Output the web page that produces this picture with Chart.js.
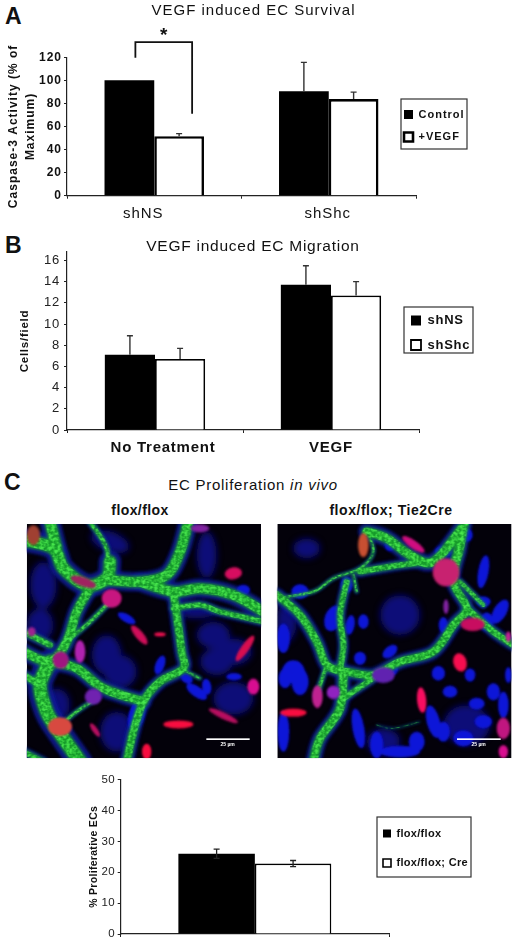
<!DOCTYPE html>
<html><head><meta charset="utf-8"><title>VEGF induced EC survival, migration and proliferation</title>
<script src="https://cdn.jsdelivr.net/npm/chart.js@4"></script>
<style>
html,body{margin:0;padding:0;background:#fff;width:520px;height:947px;overflow:hidden}
canvas.c{position:absolute;left:0}
.t{position:absolute;font-family:"Liberation Sans",Arial,sans-serif;color:#111;white-space:nowrap;transform:translate(-50%,-50%)}
.p{font-weight:bold;font-size:23px;transform:none;line-height:24px}
svg{position:absolute;left:0;top:0}
</style></head><body>
<div class="t p" style="left:5px;top:4px">A</div>
<div class="t p" style="left:5px;top:233px">B</div>
<div class="t p" style="left:4px;top:470px">C</div>
<div class="t" style="left:253px;top:484px;font-size:15px;letter-spacing:.75px">EC Proliferation <i>in vivo</i></div>
<div class="t" style="left:140px;top:510px;font-size:14px;font-weight:bold;letter-spacing:.4px">flox/flox</div>
<div class="t" style="left:391px;top:510px;font-size:14px;font-weight:bold;letter-spacing:.55px">flox/flox; Tie2Cre</div>
<svg id="micro" width="520" height="947" viewBox="0 0 1560 2841"></svg>
<canvas class="c" id="ca" width="520" height="232" style="top:0"></canvas>
<canvas class="c" id="cb" width="520" height="235" style="top:232px"></canvas>
<canvas class="c" id="cc" width="520" height="177" style="top:770px"></canvas>
<script>
// ---- Data ----
const catsA = ['shNS','shShc'];
const controlA = [100,90.5];
const vegfA = [51.5,83.7];
const controlErrA = [0,25];
const vegfErrA = [2.3,6];
const ticksMaxA = 120;

const catsB = ['No Treatment','VEGF'];
const shNSB = [7.1,13.7];
const shShcB = [6.7,12.7];
const shNSErrB = [1.8,1.8];
const shShcErrB = [1.0,1.3];

const catsC = [''];
const floxC = [26];
const creC = [22.8];
const floxErrC = [1.5];
const creErrC = [1.0];

const sigLevels = {top:133, leftEnd:119.5, rightEnd:71};

// ---- Chart helpers ----
const FF = '"Liberation Sans", Arial, sans-serif';
const INK = '#111';

const panelPlugin = {
  id:'panel',
  afterLayout(chart){
    const o = chart.options.plugins.panel, l = chart.legend;
    const w = o.frame[0]+o.frame[2]+10-o.legendX;
    l.left = o.legendX; l.top = o.legendY; l.right = o.legendX+w; l.bottom = o.legendY+o.frame[3]+30;
    l.width = w; l.height = o.frame[3]+30;
    if(chart.titleBlock && o.titleShift){ chart.titleBlock.left += o.titleShift; chart.titleBlock.right += o.titleShift; }
  },
  beforeDraw(chart){
    const o = chart.options.plugins.panel;
    chart.ctx.letterSpacing = o.spacing;
    const items = chart.scales.x.getLabelItems();
    items.forEach((it,i)=>{ if(!it._moved){ it.options.translation[0] += o.labelShift[i]||0; it._moved = true; } });
  },
  afterDraw(chart){
    const o = chart.options.plugins.panel, c = chart.ctx, ys = chart.scales.y;
    c.save();
    // error bars
    o.errors.forEach((errs,d)=>{
      const meta = chart.getDatasetMeta(d), vals = chart.data.datasets[d].data;
      errs.forEach((e,j)=>{
        if(!e) return;
        const x = meta.data[j].x, hi = ys.getPixelForValue(vals[j]+e), lo = ys.getPixelForValue(vals[j]-(o.bothWays?e:0));
        c.strokeStyle = o.errColor; c.lineWidth = o.errWidth;
        c.beginPath(); c.moveTo(x,lo); c.lineTo(x,hi);
        c.moveTo(x-o.cap,hi); c.lineTo(x+o.cap,hi);
        if(o.bothWays){ c.moveTo(x-o.cap,lo); c.lineTo(x+o.cap,lo); }
        c.stroke();
      });
    });
    // legend frame
    c.strokeStyle = '#333'; c.lineWidth = 1.2;
    c.strokeRect(o.frame[0], o.frame[1], o.frame[2], o.frame[3]);
    // significance bracket
    if(o.bracket){
      const m0 = chart.getDatasetMeta(0).data[0], m1 = chart.getDatasetMeta(1).data[0];
      const xl = m0.x+6, xr = m1.x+13;
      c.strokeStyle = '#111'; c.lineWidth = 1.8; c.beginPath();
      c.moveTo(xl,ys.getPixelForValue(sigLevels.leftEnd));
      c.lineTo(xl,ys.getPixelForValue(sigLevels.top));
      c.lineTo(xr,ys.getPixelForValue(sigLevels.top));
      c.lineTo(xr,ys.getPixelForValue(sigLevels.rightEnd));
      c.stroke();
      c.fillStyle = '#111'; c.font = 'bold 19px '+FF; c.textAlign='center'; c.textBaseline='middle';
      c.letterSpacing='0px';
      c.fillText('*',(xl+xr)/2,ys.getPixelForValue(sigLevels.top)-6);
    }
    c.restore();
  }
};

function makeChart(id,cfg){
  const el = document.getElementById(id), H = el.height;
  const a = cfg.area; // left,right,top,bottom within the canvas
  return new Chart(el,{
    type:'bar',
    plugins:[panelPlugin],
    data:{labels:cfg.labels,datasets:cfg.series.map((s,i)=>({
      label:s.name,data:s.data,
      backgroundColor:i? '#fff':'#000',borderColor:'#000',borderWidth:i?cfg.barBorder:0,inflateAmount:0,
      borderSkipped:'bottom',categoryPercentage:.57,barPercentage:1}))},
    options:{
      responsive:false,animation:false,events:[],
      layout:{padding:{left:cfg.padL,right:520-a.right,top:cfg.padT,bottom:0}},
      scales:{
        x:{
          grid:{display:true,offset:true,drawOnChartArea:false,drawTicks:true,tickLength:3,color:'#222',lineWidth:1},
          border:{display:true,color:'#222',width:1.2},
          ticks:{color:INK,padding:cfg.xPad,font:{family:FF,size:cfg.xSize,weight:cfg.xWeight||'normal'},maxRotation:0,autoSkip:false},
          afterFit(s){ s.height = H-a.bottom; }
        },
        y:{
          min:0,max:cfg.max,
          grid:{display:true,drawOnChartArea:false,drawTicks:true,tickLength:3,color:'#222',lineWidth:1},
          border:{display:true,color:'#222',width:1.2},
          ticks:{color:cfg.tickColor||INK,stepSize:cfg.step,includeBounds:false,padding:cfg.yPad,font:{family:FF,size:cfg.ySize,weight:cfg.yWeight||'normal'}},
          title:{display:true,text:cfg.yTitle,color:INK,padding:{top:0,bottom:0},font:{family:FF,size:cfg.titleSize,weight:'bold',lineHeight:cfg.titleLH||1.4}},
          afterFit(s){ s.width = a.left-cfg.padL; }
        }
      },
      plugins:{
        title:cfg.title?{display:true,text:cfg.title,color:INK,padding:cfg.titlePad,font:{family:FF,size:cfg.headSize,weight:'normal'}}:{display:false},
        tooltip:{enabled:false},
        legend:{display:true,position:'chartArea',align:'start',
          labels:{boxWidth:cfg.box,boxHeight:cfg.box,padding:cfg.legPad,color:INK,font:{family:FF,size:cfg.legSize,weight:'bold'}}},
        panel:cfg.panel
      }
    }
  });
}

makeChart('ca',{
  labels:catsA,series:[{name:'Control',data:controlA},{name:'+VEGF',data:vegfA}],
  area:{left:67,right:416,top:56,bottom:195.7},padL:5,padT:0,barBorder:2.6,
  max:ticksMaxA,step:20,xSize:15,ySize:12,yWeight:'bold',xPad:6,yPad:2,
  yTitle:['Caspase-3 Activity (% of','Maximum)'],titleSize:12,
  title:'VEGF induced EC Survival',headSize:15,titlePad:{top:2,bottom:37.2},
  box:9,legPad:11.5,legSize:11,
  panel:{legendX:392.5,legendY:97.5,frame:[401,99,66,50],errors:[controlErrA,vegfErrA],bothWays:false,errColor:'#333',errWidth:1.4,cap:3,labelShift:[-11,-1],spacing:'1px',bracket:true,titleShift:43}
});
makeChart('cb',{
  labels:catsB,series:[{name:'shNS',data:shNSB},{name:'shShc',data:shShcB}],
  area:{left:67,right:419,top:18,bottom:198},padL:17,padT:0,barBorder:1.8,
  max:16.8,step:2,xSize:15,xWeight:'bold',ySize:13,tickColor:'#222',xPad:6,yPad:4,
  yTitle:'Cells/field',titleSize:11.5,
  title:'VEGF induced EC Migration',headSize:15.5,titlePad:{top:5,bottom:-3.6},
  box:10,legPad:11.5,legSize:13,
  panel:{legendX:399.5,legendY:70.5,frame:[404,75,69,46],errors:[shNSErrB,shShcErrB],bothWays:false,errColor:'#333',errWidth:1.4,cap:3,labelShift:[8,0],spacing:'0.75px',bracket:false,titleShift:35}
});
makeChart('cc',{
  labels:catsC,series:[{name:'flox/flox',data:floxC},{name:'flox/flox; Cre',data:creC}],
  area:{left:120.7,right:389,top:9,bottom:164},padL:87,padT:9,barBorder:1.6,
  max:50,step:10,xSize:11,ySize:11.5,tickColor:'#222',xPad:2,yPad:2.7,
  yTitle:'% Proliferative ECs',titleSize:10.5,
  box:8,legPad:18.5,legSize:11,
  panel:{legendX:364.5,legendY:39.5,frame:[377,47,94,60],errors:[floxErrC,creErrC],bothWays:true,errColor:'#222',errWidth:1.3,cap:3,labelShift:[0],spacing:'0.3px',bracket:false}
});

// ---- Micrograph panels (illustrative, not chart data) ----
const imgs = [[80,177,703,703],[832,177,703,703]];
const green = [
 [[70,225,160,250,190,310,260,360,320,340,330,290],40],[[320,345,420,350,500,330,540,260,565,170],34],
 [[420,350,520,380,600,370,700,390,790,440],34],[[520,380,530,450,545,560,550,610,480,650,430,710,400,800,380,890],26],
 [[270,370,230,440,200,530,150,590,70,560],30],[[200,530,270,470,330,410],12],[[150,590,230,610,310,670,430,710],30],
 [[150,590,120,660,140,740,170,790,240,890],44],[[70,630,120,660],22],[[520,430,600,420,660,440,790,470],18],
 [[170,790,230,740,290,700],10],[[540,610,600,640],8],[[70,500,150,540],20],[[270,170,320,250,320,330],14],[[150,170,170,250],36],[[70,860,130,890],18],
 [[1100,200,1160,220,1230,270,1300,290,1385,190],30],[[1395,170,1380,250,1360,350,1400,430,1360,480,1300,560,1200,590,1120,630,1040,620],26],
 [[1100,200,1120,260,1080,310,1000,340,940,380,830,400],8],[[1080,320,1200,300,1300,290],20],[[830,390,900,450,950,530,980,600,1030,620],26],
 [[1040,350,1020,450,1030,540,1020,610],20],[[1030,620,1020,730,960,820,940,890],28],[[1400,430,1480,500,1540,540],22],[[1120,640,1060,680,1020,710],18],
 [[950,690,980,600],12],[[1380,350,1450,420],14],[[1360,290,1395,180],20],[[1070,380,1060,330],8],[[1130,780,1180,790,1260,770],2]
];
const blueDark = [
 [130,360,40,70,0],[120,480,40,50,0],[320,570,45,60,0],[360,620,50,50,0],[640,510,50,40,0],[700,560,55,40,0],[650,590,50,40,0],[330,230,60,30,20],[700,700,60,50,0],[350,800,50,60,0],[620,270,30,70,0],[590,440,60,20,0],[170,720,40,50,0],
 [1200,450,60,60,0],[1150,830,50,40,0],[1400,780,70,60,0],[860,470,30,60,0],[920,250,40,30,0]
];
const blue = [
 [702,635,24,11,0],[590,680,36,16,35],[620,665,14,24,-10],[560,640,20,14,30],[380,460,30,12,30],[730,375,20,16,0],[480,600,14,30,20],[410,750,24,50,15],
 [900,380,26,22,0],[850,520,20,44,0],[880,620,34,34,0],[1040,360,18,24,0],[1000,460,26,40,20],[1090,470,16,22,0],[1080,580,18,20,0],[1170,560,26,16,-40],[1180,610,14,20,0],
 [1315,625,20,22,0],[1410,630,16,20,0],[1430,716,24,18,0],[1300,770,20,50,-15],[1075,790,18,60,-10],[1130,840,20,40,0],[1500,440,20,40,30],[1450,410,22,16,0],[1400,210,18,20,0],
 [1450,320,16,50,10],[1330,480,14,24,0],[1450,770,26,20,0],[1525,630,10,24,0],[1330,260,26,18,0],[1170,240,16,18,0],[850,800,18,60,0],[1200,860,60,18,0],[1460,470,20,28,0],[1510,720,16,40,0],
 [900,650,26,40,0],[855,640,20,30,0],[1350,680,22,18,0],[1480,680,20,26,0],[1390,820,30,24,0],[1250,830,24,30,0],[1050,480,14,30,10],[1330,800,20,30,0]
];
const red = [
 [700,325,26,18,-10,'#d81060'],[418,510,12,36,-40,'#d0105a'],[735,550,12,46,35,'#d81050'],[480,508,18,6,0,'#f01050'],[760,665,18,24,0,'#d81090'],[670,752,48,10,25,'#b81060'],
 [535,778,45,12,0,'#f81040'],[285,795,8,24,-35,'#b81060'],[440,860,14,24,0,'#f81040'],[180,785,36,28,0,'#d84840'],[182,585,24,26,0,'#a01880'],[240,560,16,34,0,'#b020b0'],
 [335,400,30,28,0,'#c81880'],[250,350,40,14,20,'#a02060'],[100,210,20,30,0,'#a04030'],[600,190,28,12,0,'#8020a0'],[95,500,12,14,0,'#a02090'],[280,695,26,24,0,'#7020b0'],
 [1090,240,16,36,0,'#c85030'],[1240,238,40,12,35,'#d01080'],[1338,322,40,42,0,'#c82070'],[1418,478,36,20,0,'#c81060'],[1380,592,20,28,-15,'#f81050'],[1265,705,14,38,-5,'#f81060'],
 [880,743,40,12,0,'#f81040'],[952,695,16,34,0,'#c02090'],[1000,682,20,20,0,'#9020c0'],[1150,630,34,24,0,'#6020b0'],[1510,790,20,32,0,'#c01880'],[1510,860,14,20,0,'#d81090'],[1338,425,8,22,0,'#8020a0'],[1525,515,8,16,0,'#c02090']
];
// smooth curve through the listed way-points
const curve = a => { let d=`M${a[0]} ${a[1]}`; const n=a.length/2;
  for(let i=0;i<n-1;i++){ const g=k=>{k=Math.max(0,Math.min(n-1,k));return [a[2*k],a[2*k+1]];};
    const p0=g(i-1),p1=g(i),p2=g(i+1),p3=g(i+2);
    d+=`C${p1[0]+(p2[0]-p0[0])/6} ${p1[1]+(p2[1]-p0[1])/6} ${p2[0]-(p3[0]-p1[0])/6} ${p2[1]-(p3[1]-p1[1])/6} ${p2[0]} ${p2[1]}`; }
  return d; };
const ell = (e,f) => `<ellipse cx="${e[0]}" cy="${e[1]}" rx="${e[2]}" ry="${e[3]}" transform="rotate(${e[4]} ${e[0]} ${e[1]})" fill="${f||e[5]}"/>`;
const lines = (w,c,o) => green.map(g=>`<path d="${curve(g[0])}" fill="none" stroke="${c}" stroke-width="${g[1]*w}" stroke-opacity="${o}" stroke-linejoin="round" stroke-linecap="round"/>`).join('');
document.getElementById('micro').innerHTML = `
<defs>
 <filter id="soft"><feGaussianBlur stdDeviation="2.5"/></filter>
 <filter id="soft1"><feGaussianBlur stdDeviation="5"/></filter>
 <filter id="soft2"><feGaussianBlur stdDeviation="9"/></filter>
 <filter id="mott" x="0" y="0" width="100%" height="100%"><feTurbulence type="fractalNoise" baseFrequency="0.11" numOctaves="2" seed="4" result="n"/><feColorMatrix in="n" type="matrix" values="0 0 0 0 0 0 0 0 0 0 0 0 0 0 0 0 0 0 3 -1.05" result="a"/><feComposite in="SourceGraphic" in2="a" operator="in" result="g"/><feGaussianBlur in="g" stdDeviation="2"/></filter>
 <clipPath id="clip"><path d="${imgs.map(r=>`M${r[0]} ${r[1]}h${r[2]}v${r[3]}h-${r[2]}z`).join('')}"/></clipPath>
</defs>
<g transform="translate(0 1395)">
 <g clip-path="url(#clip)">
  ${imgs.map(r=>`<rect x="${r[0]}" y="${r[1]}" width="${r[2]}" height="${r[3]}" fill="#03010a"/>`).join('')}
  <g filter="url(#soft2)">${blueDark.map(e=>ell(e,'#0a0a78')).join('')}</g>
  <g filter="url(#soft1)">${lines(1.7,'#0c1a98',.85)}</g>
  <g filter="url(#soft)">${blue.map(e=>ell(e,'#0c14d8')).join('')}</g>
  <g filter="url(#soft1)">${lines(1,'#169a2a',1)}</g>
  <g filter="url(#mott)">${lines(.85,'#48e84c',.9)}</g>
  <g filter="url(#soft)">${red.map(e=>ell(e)).join('')}</g>
 </g>
 <rect x="619" y="820" width="130" height="5" fill="#fff"/><rect x="1371" y="820" width="131" height="5" fill="#fff"/>
 <text x="683" y="843" font-size="15" font-weight="bold" fill="#fff" text-anchor="middle" font-family="Liberation Sans">25 µm</text>
 <text x="1436" y="843" font-size="15" font-weight="bold" fill="#fff" text-anchor="middle" font-family="Liberation Sans">25 µm</text>
</g>`;
</script>
</body></html>
